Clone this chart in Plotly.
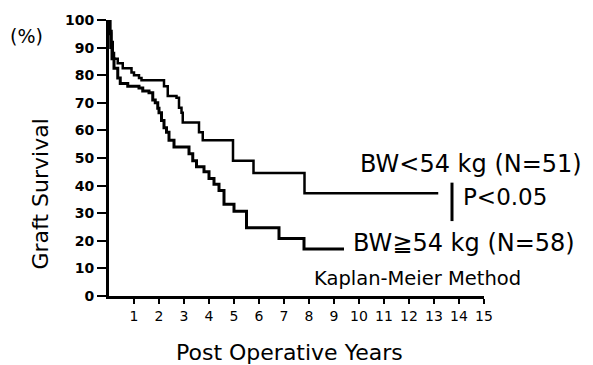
import plotly.graph_objects as go

# ---- data ----
years_low = [0, 0.03, 0.07, 0.12, 0.2, 0.35, 0.45, 0.75, 1.2, 1.35, 1.6, 1.75, 1.85, 1.95,
             2.0, 2.1, 2.2, 2.3, 2.4, 2.6, 3.2, 3.35, 3.5, 3.8, 4.0, 4.2, 4.4, 4.6, 5.0,
             5.5, 6.8, 7.8, 9.4]
surv_low = [100, 95, 90, 86, 82.5, 79, 77, 76, 75.4, 74.3, 73.6, 71, 70, 68,
            66.4, 63.6, 61, 59.3, 56.4, 54, 51.5, 49, 46.8, 45, 42.6, 40.5, 38.2, 33.2, 30.7,
            24.7, 20.8, 17.0, 17.0]

years_high = [0, 0.05, 0.1, 0.15, 0.2, 0.35, 0.55, 0.9, 1.0, 1.2, 1.3, 2.2, 2.35, 2.7,
              2.8, 2.9, 2.95, 3.6, 3.75, 4.96, 5.78, 7.82, 13.17]
surv_high = [100, 96, 92, 88, 86, 84.3, 82.5, 81, 80, 79, 78.2, 76, 72.5, 71.8,
             68.2, 66.4, 62.9, 59.3, 56.4, 49.0, 44.6, 37.2, 37.2]

x_ticks = list(range(1, 16))
y_ticks = list(range(0, 101, 10))

label_high = "BW<54 kg (N=51)"
label_low = "BW≧54 kg (N=58)"
p_text = "P<0.05"
method_text = "Kaplan-Meier Method"

# ---- layout geometry (pixels) ----
W, H = 593, 365
L, R, T, B = 109, 109, 16, 69
PW, PH = W - L - R, H - T - B


def px(x):
    return (x - L) / PW


def py(y):
    return (H - B - y) / PH


FONT = "DejaVu Sans"

fig = go.Figure()
fig.add_trace(go.Scatter(x=years_high, y=surv_high, mode="lines", line_shape="hv",
                         line=dict(color="black", width=2.5), showlegend=False,
                         hoverinfo="skip"))
fig.add_trace(go.Scatter(x=years_low, y=surv_low, mode="lines", line_shape="hv",
                         line=dict(color="black", width=3), showlegend=False,
                         hoverinfo="skip"))

annotations = [
    dict(text="(%)", x=px(26), y=py(32), font=dict(size=19)),
    dict(text="Graft Survival", x=px(40), y=py(193), font=dict(size=22), textangle=-90),
    dict(text="Post Operative Years", x=px(289), y=py(353), font=dict(size=22)),
    dict(text=label_high, x=px(358), y=py(162), font=dict(size=24), xanchor="left"),
    dict(text=p_text, x=px(461), y=py(196), font=dict(size=23), xanchor="left"),
    dict(text=label_low, x=px(351), y=py(242), font=dict(size=24), xanchor="left"),
    dict(text=method_text, x=px(312), y=py(278), font=dict(size=19.5), xanchor="left"),
]
for a in annotations:
    a.setdefault("xanchor", "center")
    a.update(xref="paper", yref="paper", yanchor="middle", showarrow=False)
    a["font"].update(family=FONT, color="black")
fig.update_layout(annotations=annotations)

fig.add_shape(type="line", xref="paper", yref="paper", x0=px(452), x1=px(452),
              y0=py(181), y1=py(220), line=dict(color="black", width=3))

fig.update_layout(
    width=W, height=H,
    margin=dict(l=L, r=R, t=T, b=B, pad=0),
    paper_bgcolor="white", plot_bgcolor="white",
    xaxis=dict(range=[0, 15], tickvals=x_ticks, ticktext=[str(v) for v in x_ticks],
               showgrid=False, zeroline=False, showline=True, linecolor="black",
               linewidth=3, ticks="outside", ticklen=5, tickwidth=2, tickcolor="black",
               tickfont=dict(family=FONT, size=14, color="black")),
    yaxis=dict(range=[0, 100], tickvals=y_ticks, ticktext=[str(v) for v in y_ticks],
               showgrid=False, zeroline=False, showline=True, linecolor="black",
               linewidth=3, ticks="outside", ticklen=9, tickwidth=2, tickcolor="black",
               tickfont=dict(family=FONT, size=14, color="black", weight="bold")),
)

fig.write_html("out.html")
